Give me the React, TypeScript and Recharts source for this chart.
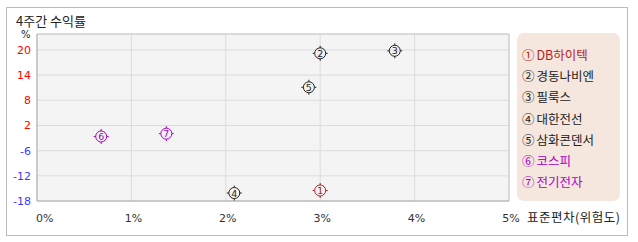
import React from "react";
import {
  ScatterChart,
  Scatter,
  XAxis,
  YAxis,
  CartesianGrid,
  ReferenceLine,
} from "recharts";

// ---- data ----
const names = ["DB하이텍", "경동나비엔", "필룩스", "대한전선", "삼화콘덴서", "코스피", "전기전자"];
const markerDigits = ["1", "2", "3", "4", "5", "6", "7"];
const circledDigits = ["①", "②", "③", "④", "⑤", "⑥", "⑦"];
const riskValues = [3.0, 3.0, 3.79, 2.09, 2.88, 0.68, 1.37]; // 표준편차 (%)
const returnValues = [-15.5, 19.2, 19.8, -16.1, 11.1, -1.5, -0.6]; // 4주간 수익률 (%)
const seriesColors = ["#b41e1e", "#222222", "#222222", "#222222", "#222222", "#a800c8", "#a800c8"];
const xTicks = [0, 1, 2, 3, 4, 5];
const yTicks = [-18, -12, -6, 2, 8, 14, 20];
const Y_MAX = 23.8;

const points = names.map((n, i) => ({
  name: n,
  x: riskValues[i],
  y: returnValues[i],
  digit: markerDigits[i],
  color: seriesColors[i],
}));

// piecewise scale so that the uneven tick values sit evenly spaced, as in the reference
function makePiecewiseScale(knots: number[]): any {
  let dom: number[] = [knots[0], knots[knots.length - 1]];
  let rng: number[] = [0, 1];
  const n = knots.length;
  const toIdx = (v: number) => {
    if (v <= knots[0]) return (v - knots[0]) / (knots[1] - knots[0]);
    if (v >= knots[n - 1]) return n - 1 + (v - knots[n - 1]) / (knots[n - 1] - knots[n - 2]);
    for (let i = 0; i < n - 1; i++) {
      if (v <= knots[i + 1]) return i + (v - knots[i]) / (knots[i + 1] - knots[i]);
    }
    return n - 1;
  };
  const fromIdx = (t: number) => {
    if (t <= 0) return knots[0] + t * (knots[1] - knots[0]);
    if (t >= n - 1) return knots[n - 1] + (t - (n - 1)) * (knots[n - 1] - knots[n - 2]);
    const i = Math.floor(t);
    return knots[i] + (t - i) * (knots[i + 1] - knots[i]);
  };
  const scale: any = (v: number) => {
    const a = toIdx(dom[0]);
    const b = toIdx(dom[1]);
    const t = (toIdx(Number(v)) - a) / (b - a);
    return rng[0] + t * (rng[1] - rng[0]);
  };
  scale.domain = (d?: any[]) => {
    if (d === undefined) return dom.slice();
    dom = [Number(d[0]), Number(d[d.length - 1])];
    return scale;
  };
  scale.range = (r?: any[]) => {
    if (r === undefined) return rng.slice();
    rng = [Number(r[0]), Number(r[r.length - 1])];
    return scale;
  };
  scale.invert = (px: number) => {
    const a = toIdx(dom[0]);
    const b = toIdx(dom[1]);
    const t = a + ((px - rng[0]) / (rng[1] - rng[0])) * (b - a);
    return fromIdx(t);
  };
  scale.copy = () => {
    const s = makePiecewiseScale(knots);
    s.domain(dom);
    s.range(rng);
    return s;
  };
  scale.ticks = () => knots.slice();
  scale.tickFormat = () => (v: number) => String(v);
  scale.clamp = () => scale;
  scale.nice = () => scale;
  return scale;
}

const yScale = makePiecewiseScale(yTicks);

const KFONT = "'Noto Sans CJK KR', 'Noto Sans', sans-serif";
const NFONT = "'DejaVu Sans', 'Liberation Sans', sans-serif";

const Marker = (props: any) => {
  const { cx, cy, payload } = props;
  if (cx == null || cy == null) return null;
  const c = payload.color;
  const r = 5.5;
  return (
    <g>
      <circle cx={cx} cy={cy} r={r} fill="none" stroke={c} strokeWidth={1} />
      <line x1={cx} y1={cy - r} x2={cx} y2={cy - r - 2} stroke={c} />
      <line x1={cx} y1={cy + r} x2={cx} y2={cy + r + 2} stroke={c} />
      <line x1={cx - r} y1={cy} x2={cx - r - 2} y2={cy} stroke={c} />
      <line x1={cx + r} y1={cy} x2={cx + r + 2} y2={cy} stroke={c} />
      <text
        x={cx}
        y={cy + 3.5}
        textAnchor="middle"
        fontSize={9.5}
        fontFamily={NFONT}
        fill={c}
      >
        {payload.digit}
      </text>
    </g>
  );
};

const XTick = (props: any) => {
  const { x, y, payload, index } = props;
  const first = index === 0 || payload.value === 0;
  return (
    <text
      x={first ? x - 1 : x + 2}
      y={y + 13}
      textAnchor={first ? "start" : "middle"}
      fontSize={11}
      fontFamily={NFONT}
      fill="#333"
    >
      {payload.value + "%"}
    </text>
  );
};

const YTick = (props: any) => {
  const { y, payload } = props;
  const v = payload.value;
  return (
    <text
      x={31}
      y={y + 4}
      textAnchor="end"
      fontSize={11}
      fontFamily={NFONT}
      fill={v >= 0 ? "#ff0000" : "#3b3bff"}
    >
      {v}
    </text>
  );
};

export default function App() {
  return (
    <div
      style={{
        position: "absolute",
        left: 0,
        top: 0,
        width: 638,
        height: 242,
        background: "#fff",
        fontFamily: KFONT,
      }}
    >
      <div
        style={{
          position: "absolute",
          left: 6,
          top: 7,
          width: 620,
          height: 227,
          border: "1px solid #bbbbbb",
        }}
      />
      <div
        style={{
          position: "absolute",
          left: 16,
          top: 12,
          fontSize: 13,
          lineHeight: "17px",
          color: "#222",
          whiteSpace: "nowrap",
        }}
      >
        4주간 수익률
      </div>
      <div
        style={{
          position: "absolute",
          left: 21,
          top: 28,
          fontSize: 10,
          lineHeight: "14px",
          color: "#222",
          fontFamily: NFONT,
        }}
      >
        %
      </div>
      <div style={{ position: "absolute", left: 0, top: 0 }}>
        <ScatterChart
          width={638}
          height={242}
          margin={{ top: 34, right: 129, bottom: 11, left: 7 }}
        >
          <CartesianGrid stroke="#dcdcdc" fill="#f4f4f4" />
          <XAxis
            type="number"
            dataKey="x"
            domain={[0, 5]}
            ticks={xTicks}
            interval={0}
            height={30}
            tickLine={false}
            axisLine={{ stroke: "#aaaaaa" }}
            tick={<XTick />}
            allowDataOverflow
          />
          <YAxis
            type="number"
            dataKey="y"
            domain={[-18, Y_MAX]}
            ticks={yTicks}
            interval={0}
            scale={yScale}
            width={30}
            tickLine={false}
            axisLine={{ stroke: "#aaaaaa" }}
            tick={<YTick />}
            allowDataOverflow
          />
          <ReferenceLine y={Y_MAX} stroke="#c8c8c8" />
          <ReferenceLine x={5} stroke="#c8c8c8" />
          <Scatter data={points} shape={<Marker />} isAnimationActive={false} />
        </ScatterChart>
      </div>
      <div
        style={{
          position: "absolute",
          left: 527,
          top: 209,
          fontSize: 12.5,
          lineHeight: "16px",
          color: "#222",
          letterSpacing: 0.5,
          whiteSpace: "nowrap",
        }}
      >
        표준편차(위험도)
      </div>
      <div
        style={{
          position: "absolute",
          left: 517,
          top: 33,
          width: 103,
          height: 168,
          background: "#f5e6de",
          borderRadius: 7,
        }}
      >
        {names.map((n, i) => (
          <div
            key={n}
            style={{
              position: "absolute",
              left: 5,
              top: 13 + i * 21.2,
              fontSize: 12.5,
              lineHeight: "17px",
              color: seriesColors[i],
              whiteSpace: "nowrap",
            }}
          >
            <span style={{ marginRight: 2 }}>{circledDigits[i]}</span>
            {n}
          </div>
        ))}
      </div>
    </div>
  );
}
